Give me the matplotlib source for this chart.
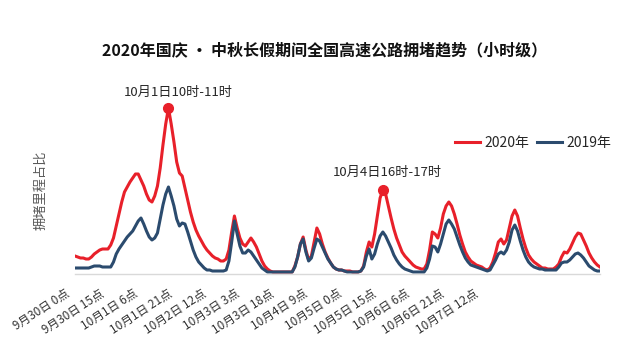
import numpy as np
import matplotlib
matplotlib.use("Agg")
import matplotlib.pyplot as plt

plt.rcParams['font.family'] = ['Noto Sans CJK SC', 'DejaVu Sans']

# ---------------- data ----------------
title = "2020年国庆 · 中秋长假期间全国高速公路拥堵趋势（小时级）"
ylabel = "拥堵里程占比"
series_names = ["2020年", "2019年"]

# hourly index starting 9月30日 0点
hours = np.arange(192)

tick_hours = np.arange(0, 181, 15)
tick_labels = ["9月30日 0点", "9月30日 15点", "10月1日 6点", "10月1日 21点",
               "10月2日 12点", "10月3日 3点", "10月3日 18点", "10月4日 9点",
               "10月5日 0点", "10月5日 15点", "10月6日 6点", "10月6日 21点",
               "10月7日 12点"]

congestion_2020 = [
    18, 17, 16, 16, 15, 15, 17, 20, 22, 24,
    25, 25, 25, 29, 36, 48, 60, 72, 82, 87,
    92, 96, 100, 100, 94, 88, 80, 74, 72, 78,
    88, 106, 129, 150, 166, 150, 132, 112, 101, 98,
    86, 74, 62, 52, 44, 38, 33, 28, 24, 21,
    18, 16, 15, 13, 13, 15, 24, 42, 58, 46,
    36, 30, 28, 32, 36, 32, 27, 20, 13, 8,
    5, 3, 2, 2, 2, 2, 2, 2, 2, 2,
    8, 17, 30, 37, 24, 14, 18, 32, 46, 40,
    30, 22, 16, 11, 7, 5, 4, 4, 3, 3,
    3, 2, 2, 2, 3, 8, 22, 32, 27, 40,
    58, 76, 84, 80, 68, 56, 45, 36, 29, 22,
    18, 15, 12, 9, 7, 6, 5, 5, 10, 24,
    42, 40, 36, 46, 60, 68, 72, 68, 60, 50,
    39, 30, 22, 17, 13, 11, 9, 8, 7, 5,
    4, 6, 12, 21, 32, 35, 30, 34, 46, 58,
    64, 58, 46, 35, 26, 19, 15, 12, 10, 8,
    6, 6, 5, 5, 5, 7, 10, 17, 22, 21,
    25, 31, 37, 41, 40, 34, 28, 21, 16, 12,
    9, 7]

congestion_2019 = [
    6, 6, 6, 6, 6, 6, 7, 8, 8, 8,
    7, 7, 7, 7, 12, 20, 25, 29, 33, 37,
    40, 43, 48, 53, 56, 50, 43, 37, 34, 36,
    41, 55, 69, 80, 87, 78, 68, 55, 48, 51,
    50, 42, 33, 24, 17, 12, 9, 6, 4, 4,
    3, 3, 3, 3, 3, 4, 13, 32, 53, 40,
    28, 21, 21, 24, 22, 18, 14, 10, 6, 4,
    2, 2, 2, 2, 2, 2, 2, 2, 2, 2,
    7, 17, 30, 35, 22, 13, 16, 26, 35, 33,
    27, 21, 15, 11, 7, 5, 4, 4, 3, 2,
    2, 2, 2, 2, 3, 7, 18, 25, 15, 20,
    30, 38, 42, 38, 32, 26, 19, 14, 10, 7,
    5, 4, 3, 2, 2, 2, 2, 2, 6, 15,
    28, 27, 22, 30, 40, 50, 54, 50, 45, 37,
    29, 22, 16, 12, 9, 8, 7, 6, 5, 4,
    3, 4, 9, 14, 20, 22, 20, 24, 32, 44,
    49, 43, 33, 24, 17, 12, 9, 7, 6, 5,
    5, 4, 4, 4, 4, 4, 7, 11, 12, 12,
    14, 17, 20, 21, 19, 16, 12, 8, 6, 4,
    3, 3]

peak_hours = [34, 112]
peak_labels = ["10月1日10时-11时", "10月4日16时-17时"]

# ---------------- style ----------------
RED = "#E8202A"
BLUE = "#2B4B6E"
W, H = 630, 345

fig = plt.figure(figsize=(W / 100, H / 100), dpi=100)


def px(left, bottom, right, top):
    return [left / W, 1 - bottom / H, (right - left) / W, (bottom - top) / H]


# axis carrying the category labels (spaced as in the source chart)
lab_ax = fig.add_axes(px(65, 274, 600, 84), zorder=0)
lab_ax.patch.set_visible(False)
lab_ax.set_xlim(0, (600 - 65) / 34 * 15)
lab_ax.set_xticks(tick_hours)
lab_ax.set_xticklabels(tick_labels, rotation=33, ha='right', va='top',
                       rotation_mode='anchor', fontsize=8.5, color='#333333')
lab_ax.tick_params(axis='x', length=0, pad=9)
lab_ax.set_yticks([])
for s in lab_ax.spines.values():
    s.set_visible(False)

ax = fig.add_axes(px(75, 274, 600, 84), zorder=1)
ax.patch.set_visible(False)
l1, = ax.plot(hours, congestion_2020, color=RED, lw=2.2, solid_joinstyle='round')
l2, = ax.plot(hours, congestion_2019, color=BLUE, lw=2.2, solid_joinstyle='round')
ax.set_xlim(0, 191)
ax.set_ylim(0, 190)
for s in ['top', 'right', 'left']:
    ax.spines[s].set_visible(False)
ax.spines['bottom'].set_color('#D9D9D9')
ax.spines['bottom'].set_linewidth(1.0)
ax.set_xticks([])
ax.set_yticks([])

offsets = [(7, 11), (3, 13)]
for h, lab, off in zip(peak_hours, peak_labels, offsets):
    ax.plot(h, congestion_2020[h], 'o', color=RED, ms=7, zorder=5)
    ax.annotate(lab, (h, congestion_2020[h]), xytext=off,
                textcoords='offset points', ha='center', va='center',
                fontsize=9.5, color='#262626')

fig.legend([l1, l2], series_names, loc='center left',
           bbox_to_anchor=(455 / W, 1 - 143 / H), ncol=2, frameon=False,
           fontsize=10, handlelength=1.8, handletextpad=0.3,
           columnspacing=0.6, borderpad=0, borderaxespad=0,
           labelcolor='#262626')

fig.text(325 / W, 1 - 50 / H, title, ha='center', va='center',
         fontsize=11.5, fontweight='bold', color='#111111')
fig.text(41 / W, 1 - 190 / H, ylabel, rotation=90, ha='center', va='center',
         fontsize=9.5, color='#595959')

fig.savefig("out.png", dpi=100)
